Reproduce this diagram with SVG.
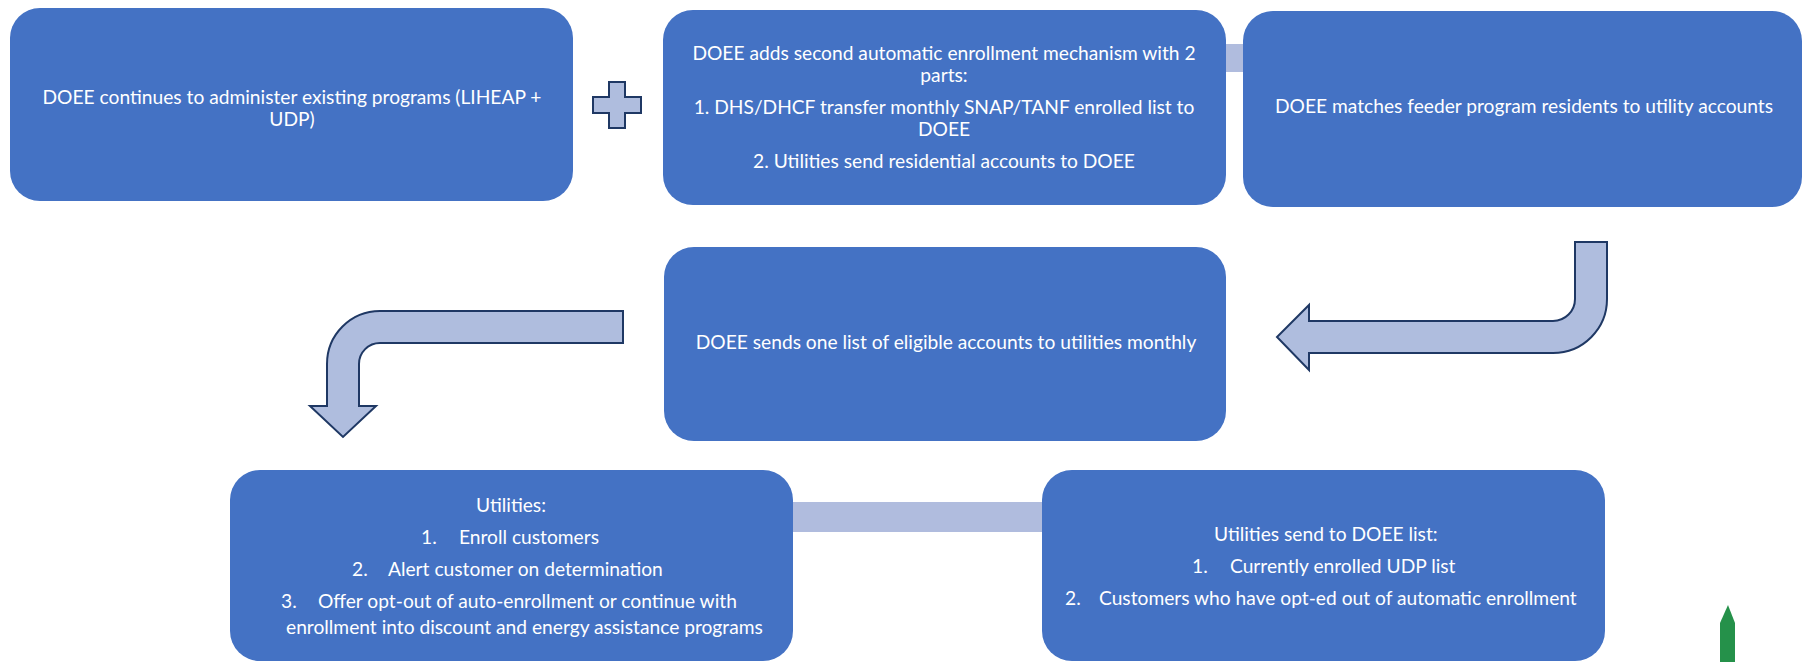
<svg xmlns="http://www.w3.org/2000/svg" width="1804" height="662" viewBox="0 0 1804 662">
<style>
.box{fill:#4472C4;}
.t{font-family:Lato,"Liberation Sans",sans-serif;font-size:19.2px;fill:#ffffff;}
.m{text-anchor:middle;}
.bar{fill:#B0BCDE;}
.arrow{fill:#AFBDDE;stroke:#1F3864;stroke-width:2;stroke-linejoin:miter;}
</style>
<rect width="1804" height="662" fill="#ffffff"/>
<g id="connectors">
<rect class="bar" x="1226" y="44" width="20" height="28"/>
<path id="plus" class="arrow" d="M609 82 L625 82 L625 97 L641 97 L641 113 L625 113 L625 128 L609 128 L609 113 L593 113 L593 97 L609 97 Z"/>
<path id="arrow-right" class="arrow" d="M1575 242 L1607 242 L1607 299 A54 54 0 0 1 1553 353 L1309 353 L1309 370 L1277 337 L1309 305 L1309 321 L1553 321 A22 22 0 0 0 1575 299 Z"/>
<path id="arrow-left" class="arrow" d="M623 311 L623 343 L380 343 A21 21 0 0 0 359 364 L359 406 L376 406 L343 437 L310 406 L327 406 L327 364 A53 53 0 0 1 380 311 Z"/>
<rect class="bar" x="790" y="502" width="256" height="30"/>
</g>
<g id="node1">
<rect class="box" x="10" y="8" width="563" height="193" rx="30"/>
<text class="t m" x="292" y="104">DOEE continues to administer existing programs (LIHEAP +</text>
<text class="t m" x="292" y="126">UDP)</text>
</g>
<g id="node2">
<rect class="box" x="663" y="10" width="563" height="195" rx="30"/>
<text class="t m" x="944" y="60">DOEE adds second automatic enrollment mechanism with 2</text>
<text class="t m" x="944" y="82">parts:</text>
<text class="t m" x="944" y="114">1. DHS/DHCF transfer monthly SNAP/TANF enrolled list to</text>
<text class="t m" x="944" y="136">DOEE</text>
<text class="t m" x="944" y="168">2. Utilities send residential accounts to DOEE</text>
</g>
<g id="node3">
<rect class="box" x="1243" y="11" width="559" height="196" rx="30"/>
<text class="t m" x="1524" y="113">DOEE matches feeder program residents to utility accounts</text>
</g>
<g id="node4">
<rect class="box" x="664" y="247" width="562" height="194" rx="30"/>
<text class="t m" x="946" y="349">DOEE sends one list of eligible accounts to utilities monthly</text>
</g>
<g id="node5">
<rect class="box" x="230" y="470" width="563" height="191" rx="30"/>
<text class="t m" x="511" y="512">Utilities:</text>
<text class="t" x="421" y="544">1.</text>
<text class="t" x="459" y="544">Enroll customers</text>
<text class="t" x="352" y="576">2.</text>
<text class="t" x="388" y="576">Alert customer on determination</text>
<text class="t" x="281" y="608">3.</text>
<text class="t" x="318" y="608">Offer opt-out of auto-enrollment or continue with</text>
<text class="t" x="286" y="634">enrollment into discount and energy assistance programs</text>
</g>
<g id="node6">
<rect class="box" x="1042" y="470" width="563" height="191" rx="30"/>
<text class="t" x="1214" y="541">Utilities send to DOEE list:</text>
<text class="t" x="1192" y="573">1.</text>
<text class="t" x="1230" y="573">Currently enrolled UDP list</text>
<text class="t" x="1065" y="605">2.</text>
<text class="t" x="1099" y="605">Customers who have opt-ed out of automatic enrollment</text>
</g>
<polygon id="green-mark" points="1720,623 1728,605 1735,623 1735,662 1720,662" fill="#25914A"/>
</svg>
